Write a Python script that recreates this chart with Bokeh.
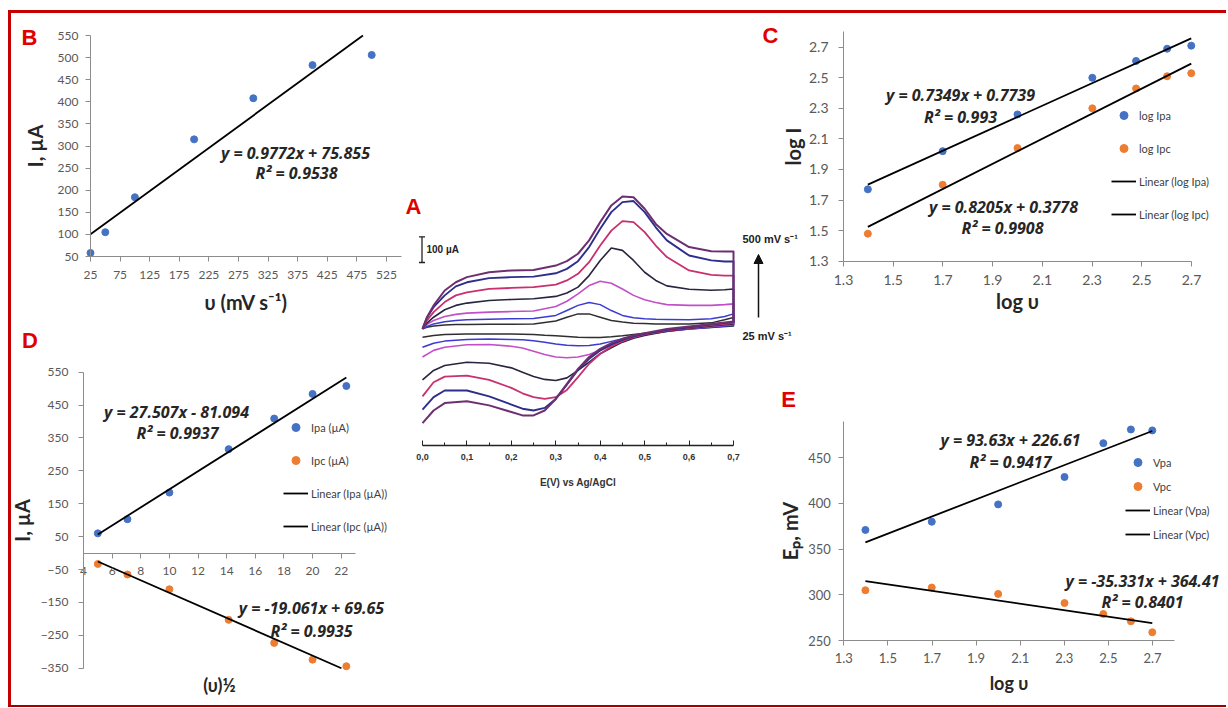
from bokeh.plotting import figure
from bokeh.layouts import row, column
from bokeh.models import (Spacer, Label, Legend, LegendItem, FixedTicker, Arrow,
                          TeeHead, NormalHead, CustomJSTickFormatter, Range1d)
from bokeh.embed import file_html
from bokeh.resources import INLINE

# ---------------- data ----------------
scan_rate = [25, 50, 100, 200, 300, 400, 500]                  # mV s-1
ipa_b = [58, 105, 184, 315, 408, 483, 506]                      # µA
fit_b = [0.9772, 75.855]

log_scan = [1.398, 1.699, 2.0, 2.301, 2.477, 2.602, 2.699]
log_ipa = [1.77, 2.02, 2.26, 2.50, 2.61, 2.69, 2.71]
log_ipc = [1.48, 1.80, 2.04, 2.30, 2.43, 2.51, 2.53]
fit_c_pa = [0.7349, 0.7739]
fit_c_pc = [0.8205, 0.3778]

sqrt_scan = [5.0, 7.07, 10.0, 14.14, 17.32, 20.0, 22.36]
ipa_d = [60, 103, 184, 316, 409, 484, 508]
ipc_d = [-33, -65, -110, -203, -273, -324, -344]
fit_d_pa = [27.507, -81.094]
fit_d_pc = [-19.061, 69.65]

vpa = [371, 380, 399, 429, 466, 481, 480]
vpc = [305, 308, 301, 291, 279, 271, 259]
fit_e_pa = [93.63, 226.61]
fit_e_pc = [-35.331, 364.41]

b_xticks = [25, 75, 125, 175, 225, 275, 325, 375, 425, 475, 525]
b_yticks = [50, 100, 150, 200, 250, 300, 350, 400, 450, 500, 550]
c_ticks = [1.3, 1.5, 1.7, 1.9, 2.1, 2.3, 2.5, 2.7]
d_xticks = [4, 6, 8, 10, 12, 14, 16, 18, 20, 22]
d_yticks = [-350, -250, -150, -50, 50, 150, 250, 350, 450, 550]
e_xticks = [1.3, 1.5, 1.7, 1.9, 2.1, 2.3, 2.5, 2.7]
e_yticks = [250, 300, 350, 400, 450]
a_ticks = [0.0, 0.1, 0.2, 0.3, 0.4, 0.5, 0.6, 0.7]
a_minor = [0.05, 0.15, 0.25, 0.35, 0.45, 0.55, 0.65]

# cyclic voltammograms (E in V, I in µA): forward sweep then reverse sweep
cv_e_fwd = [0.0, 0.01, 0.025, 0.05, 0.075, 0.1, 0.15, 0.2, 0.25, 0.3, 0.325, 0.35,
            0.375, 0.4, 0.425, 0.45, 0.475, 0.5, 0.525, 0.55, 0.6, 0.65, 0.68, 0.7]
cv_e_rev = [0.7, 0.65, 0.6, 0.55, 0.5, 0.475, 0.45, 0.425, 0.4, 0.375, 0.35, 0.325,
            0.3, 0.275, 0.25, 0.225, 0.2, 0.15, 0.1, 0.05, 0.025, 0.0]
i25_fwd = [-5, 1, 6, 10, 12, 12, 13, 13, 14, 25, 40, 53, 53, 40, 27, 21, 17, 16, 14, 14, 14, 18, 30, 39]
i25_rev = [6, 0, -6, -14, -22, -27, -32, -36, -39, -39, -38, -35, -32, -30, -27, -26, -25, -25, -25, -27, -31, -38]
i50_fwd = [-5, 4, 14, 22, 27, 30, 32, 34, 35, 47, 66, 86, 97, 89, 66, 47, 38, 34, 32, 31, 30, 34, 43, 53]
i50_rev = [9, 1, -6, -16, -27, -35, -44, -54, -64, -70, -71, -69, -64, -57, -52, -48, -47, -45, -47, -53, -61, -77]
i100_fwd = [-5, 12, 27, 43, 51, 56, 60, 62, 64, 82, 102, 131, 163, 180, 172, 150, 125, 108, 97, 89, 86, 86, 89, 92]
i100_rev = [12, 4, -5, -14, -27, -38, -51, -70, -89, -105, -115, -118, -115, -105, -92, -80, -73, -66, -67, -77, -89, -115]
i200_fwd = [-5, 17, 40, 69, 86, 95, 105, 109, 112, 121, 134, 157, 202, 261, 309, 300, 261, 215, 183, 162, 149, 145, 147, 150]
i200_rev = [14, 6, -4, -14, -31, -42, -57, -79, -102, -135, -167, -196, -206, -202, -191, -174, -157, -139, -135, -148, -167, -204]
i300_fwd = [-5, 27, 60, 99, 125, 137, 150, 154, 157, 167, 183, 209, 254, 319, 377, 414, 410, 371, 319, 274, 222, 205, 202, 202]
i300_rev = [17, 9, -1, -12, -27, -38, -53, -74, -102, -141, -193, -243, -271, -278, -271, -256, -235, -204, -187, -191, -213, -268]
i400_fwd = [-5, 38, 79, 125, 160, 176, 192, 196, 198, 211, 228, 258, 313, 384, 449, 488, 492, 449, 390, 339, 280, 261, 257, 257]
i400_rev = [21, 12, 1, -9, -25, -34, -48, -66, -89, -122, -165, -222, -278, -313, -323, -316, -300, -268, -245, -245, -271, -320]
i500_fwd = [-5, 40, 86, 144, 176, 196, 215, 222, 224, 241, 258, 287, 339, 410, 475, 510, 507, 462, 403, 364, 313, 297, 296, 296]
i500_rev = [23, 14, 4, -6, -22, -31, -44, -61, -83, -115, -161, -219, -278, -323, -342, -342, -329, -303, -287, -294, -323, -372]

# ---------------- styling helpers ----------------
BLUE = "#4472C4"
ORANGE = "#ED7D31"
XL_FONT = "Lato"
EQ_FONT = "Open Sans"
A_FONT = "Liberation Sans"


def make_panel(ox, oy, w, h, xa, xb, ya, yb, **kw):
    """Figure whose frame is its whole canvas; xa/xb/ya/yb map data values to page pixels."""
    sx = (xb[1] - xa[1]) / (xb[0] - xa[0])
    sy = (yb[1] - ya[1]) / (yb[0] - ya[0])
    x0 = xa[0] + (ox - xa[1]) / sx
    x1 = xa[0] + (ox + w - xa[1]) / sx
    y0 = ya[0] + (oy + h - ya[1]) / sy
    y1 = ya[0] + (oy - ya[1]) / sy
    p = figure(width=w, height=h, x_range=Range1d(x0, x1), y_range=Range1d(y0, y1),
               output_backend="svg", toolbar_location=None, title=None,
               min_border=0, **kw)
    p.outline_line_color = None
    p.background_fill_color = "white"
    p.border_fill_color = "white"
    p.xgrid.visible = False
    p.ygrid.visible = False

    def at(px, py):
        return xa[0] + (px - xa[1]) / sx, ya[0] + (py - ya[1]) / sy
    return p, at, dict(ox=ox, oy=oy, h=h)


def excel_axes(p, xticks, yticks, fsize, xstand, ystand, xlabel, ylabel,
               xls, yls, tsize_x, tsize_y, xfix, yfix, xbounds, ybounds):
    for ax, ticks, st, lab, ls, ts, fix, bd in (
            (p.xaxis[0], xticks, xstand, xlabel, xls, tsize_x, xfix, xbounds),
            (p.yaxis[0], yticks, ystand, ylabel, yls, tsize_y, yfix, ybounds)):
        ax.ticker = FixedTicker(ticks=ticks)
        ax.fixed_location = fix
        ax.bounds = bd
        ax.axis_line_color = "#8c8c8c"
        ax.axis_line_width = 1
        ax.major_tick_line_color = "#8c8c8c"
        ax.major_tick_out = 5
        ax.major_tick_in = 0
        ax.minor_tick_line_color = None
        ax.major_label_text_font = XL_FONT
        ax.major_label_text_font_size = f"{fsize}px"
        ax.major_label_text_color = "#595959"
        ax.major_label_standoff = st
        if lab:
            ax.axis_label = lab
            ax.axis_label_standoff = ls
            ax.axis_label_text_font = XL_FONT
            ax.axis_label_text_font_style = "bold"
            ax.axis_label_text_font_size = f"{ts}px"
            ax.axis_label_text_color = "#262626"


def text(p, at, px, py, s, size, color="#262626", style="bold italic", font=EQ_FONT,
         align="center"):
    x, y = at(px, py)
    p.add_layout(Label(x=x, y=y, text=s, text_align=align, text_baseline="middle",
                       text_font=font, text_font_style=style,
                       text_font_size=f"{size}px", text_color=color))


def letter(p, at, px, py, s):
    text(p, at, px, py, s, 22, color="#e00000", style="bold", font=A_FONT)


def fit_line(p, xs, coef, lo=None, hi=None):
    m, b = coef
    xl, xr = min(xs), max(xs)
    for lim in (lo, hi):
        if lim is not None:
            xc = (lim - b) / m
            ya_, yb_ = m * xl + b, m * xr + b
            if (ya_ - lim) * (yb_ - lim) < 0:
                if (lim == hi) == (m > 0):
                    xr = xc
                else:
                    xl = xc
    x = [xl, xr]
    return p.line(x=x, y=[m * v + b for v in x], line_color="black", line_width=1.8)


def add_legend(p, g, entries, left, top, gh, sp):
    items = [LegendItem(label=l, renderers=[r]) for l, r in entries]
    n = len(items)
    hgt = n * gh + (n - 1) * sp
    leg = Legend(items=items, location=(left - g["ox"], g["oy"] + g["h"] - (top + hgt)),
                 glyph_width=25, glyph_height=gh, label_height=gh, spacing=sp,
                 padding=0, margin=0, border_line_color=None, background_fill_alpha=0,
                 label_text_font=XL_FONT, label_text_font_size="11px",
                 label_text_color="#404040", label_standoff=3)
    p.add_layout(leg)


# ---------------- panel B ----------------
pB, atB, gB = make_panel(11, 13, 393, 307, (25, 90), (525, 386), (50, 256), (550, 35))
excel_axes(pB, b_xticks, b_yticks, 12, 9, 7, "υ (mV s⁻¹)", "I, µA", 8, 8, 20, 20,
           50, 25, (25, 550), (50, 550))
pB.scatter(scan_rate, ipa_b, size=7, color=BLUE)
fit_line(pB, scan_rate, fit_b, hi=550)
letter(pB, atB, 29, 37, "B")
text(pB, atB, 295, 152, "y = 0.9772x + 75.855", 16)
text(pB, atB, 296, 172, "R² = 0.9538", 16)

# ---------------- panel C ----------------
pC, atC, gC = make_panel(740, 13, 486, 307, (1.3, 843), (2.7, 1191), (1.3, 260.7), (2.7, 46.7))
excel_axes(pC, c_ticks, c_ticks, 14, 9, 10, "log υ", "log I", 0, 1, 20, 20,
           1.3, 1.3, (1.3, 2.7), (1.3, 2.8))
rc1 = pC.scatter(log_scan, log_ipa, size=7, color=BLUE)
rc2 = pC.scatter(log_scan, log_ipc, size=7, color=ORANGE)
lc1 = fit_line(pC, log_scan, fit_c_pa)
lc2 = fit_line(pC, log_scan, fit_c_pc)
add_legend(pC, gC, [("log Ipa", rc1), ("log Ipc", rc2), ("Linear (log Ipa)", lc1),
                    ("Linear (log Ipc)", lc2)], 1111, 105, 20, 13)
letter(pC, atC, 770, 35, "C")
text(pC, atC, 960, 94, "y = 0.7349x + 0.7739", 16)
text(pC, atC, 960, 116, "R² = 0.993", 16)
text(pC, atC, 1003, 206, "y = 0.8205x + 0.3778", 16)
text(pC, atC, 1002, 227, "R² = 0.9908", 16)
# scan-rate arrow and label belonging to the voltammograms (panel A)
ax0, ay0 = atC(758, 317)
ax1, ay1 = atC(758, 254)
pC.add_layout(Arrow(end=NormalHead(size=9, fill_color="#111111", line_color="#111111"),
                    x_start=ax0, y_start=ay0, x_end=ax1, y_end=ay1,
                    line_color="#111111", line_width=1.5))
text(pC, atC, 742, 238, "500 mV s⁻¹", 11, color="#222222", style="bold", font=A_FONT, align="left")

# ---------------- panel D ----------------
pD, atD, gD = make_panel(11, 320, 393, 385, (4, 83), (22, 340.7), (550, 371.7), (-350, 667.7))
excel_axes(pD, d_xticks, d_yticks, 12, 9, 10, None, "I, µA", 0, 4, 17, 20,
           0, 4, (4, 23), (-350, 550))
rd1 = pD.scatter(sqrt_scan, ipa_d, size=7, color=BLUE)
rd2 = pD.scatter(sqrt_scan, ipc_d, size=7, color=ORANGE)
ld1 = fit_line(pD, sqrt_scan, fit_d_pa, hi=550)
ld2 = fit_line(pD, sqrt_scan, fit_d_pc, lo=-350)
add_legend(pD, gD, [("Ipa (µA)", rd1), ("Ipc (µA)", rd2), ("Linear (Ipa (µA))", ld1),
                    ("Linear (Ipc (µA))", ld2)], 283, 417, 20, 13)
letter(pD, atD, 29.5, 340, "D")
text(pD, atD, 176, 411, "y = 27.507x - 81.094", 16)
text(pD, atD, 177, 432, "R² = 0.9937", 16)
text(pD, atD, 311, 607, "y = -19.061x + 69.65", 16)
text(pD, atD, 311, 630, "R² = 0.9935", 16)
text(pD, atD, 219, 684, "(υ)½", 18, style="bold", font=XL_FONT)

# ---------------- panel E ----------------
pE, atE, gE = make_panel(740, 320, 486, 385, (1.3, 843.3), (2.7, 1152), (250, 640), (450, 457.3))
excel_axes(pE, e_xticks, e_yticks, 13, 7, 8, "log υ", "Eₚ, mV", 6, 3, 18, 20,
           250, 1.3, (1.3, 2.8), (250, 490))
re1 = pE.scatter(log_scan, vpa, size=7, color=BLUE)
re2 = pE.scatter(log_scan, vpc, size=7, color=ORANGE)
le1 = fit_line(pE, log_scan, fit_e_pa)
le2 = fit_line(pE, log_scan, fit_e_pc)
add_legend(pE, gE, [("Vpa", re1), ("Vpc", re2), ("Linear (Vpa)", le1),
                    ("Linear (Vpc)", le2)], 1125, 452, 20, 4)
letter(pE, atE, 788, 399, "E")
text(pE, atE, 1010, 439, "y = 93.63x + 226.61", 16)
text(pE, atE, 1010, 461, "R² = 0.9417", 16)
text(pE, atE, 1142, 580, "y = -35.331x + 364.41", 16)
text(pE, atE, 1142, 601, "R² = 0.8401", 16)
text(pE, atE, 742, 335, "25 mV s⁻¹", 11, color="#222222", style="bold", font=A_FONT, align="left")

# ---------------- panel A (voltammograms) ----------------
pA, atA, gA = make_panel(404, 180, 336, 320, (0.0, 422), (0.7, 733), (0, 327), (100, 301.3),
                         y_axis_location=None)
xa = pA.xaxis[0]
xa.fixed_location = atA(422, 445)[1]
xa.bounds = (0.0, 0.7)
xa.ticker = FixedTicker(ticks=a_ticks, minor_ticks=a_minor)
xa.formatter = CustomJSTickFormatter(code="return tick.toFixed(1).replace('.', ',');")
xa.axis_line_color = "#222222"
xa.axis_line_width = 1.4
xa.major_tick_line_color = "#222222"
xa.minor_tick_line_color = "#222222"
xa.major_tick_in = 5
xa.major_tick_out = 0
xa.minor_tick_in = 3
xa.minor_tick_out = 0
xa.major_label_standoff = 8
xa.major_label_text_font = A_FONT
xa.major_label_text_font_style = "bold"
xa.major_label_text_font_size = "9px"
xa.major_label_text_color = "#333333"
xa.axis_label = "E(V) vs Ag/AgCl"
xa.axis_label_standoff = 14
xa.axis_label_text_font = A_FONT
xa.axis_label_text_font_style = "bold"
xa.axis_label_text_font_size = "10px"
xa.axis_label_text_color = "#333333"

cv_sets = [(i25_fwd, i25_rev, "#2f2f2f", 1.5), (i50_fwd, i50_rev, "#3b3bd0", 1.5),
           (i100_fwd, i100_rev, "#c24fc8", 1.6), (i200_fwd, i200_rev, "#262640", 1.6),
           (i300_fwd, i300_rev, "#c8306e", 1.8), (i400_fwd, i400_rev, "#2e2e8c", 1.9),
           (i500_fwd, i500_rev, "#6e2f70", 2.0)]
for fwd, rev, col, lw in cv_sets:
    pA.line(x=cv_e_fwd + cv_e_rev, y=fwd + rev, line_color=col, line_width=lw,
            line_join="round")

letter(pA, atA, 413, 205.5, "A")
sbx, sby = atA(421.5, 262)
pA.add_layout(Arrow(start=TeeHead(size=6, line_width=1.3, line_color="#222222"),
                    end=TeeHead(size=6, line_width=1.3, line_color="#222222"),
                    x_start=sbx, y_start=sby, x_end=sbx, y_end=sby + 100,
                    line_color="#222222", line_width=1.3))
text(pA, atA, 426, 249, "100 µA", 10, color="#222222", style="bold", font=A_FONT, align="left")

# ---------------- layout with red frame ----------------
RED = "#c40000"
top_bar = Spacer(width=1218, height=3, styles={"background-color": RED})
left_bar = Spacer(width=3, height=692, styles={"background-color": RED})
bottom_bar = Spacer(width=1218, height=2, styles={"background-color": "#a00000"})
mid = column(Spacer(width=336, height=167), pA, Spacer(width=336, height=205))
inner = column(top_bar,
               row(left_bar, column(pB, pD), mid, column(pC, pE)),
               bottom_bar)
layout = column(Spacer(width=1226, height=10), row(Spacer(width=8, height=697), inner))

open("out.html", "w").write(file_html(layout, INLINE))
